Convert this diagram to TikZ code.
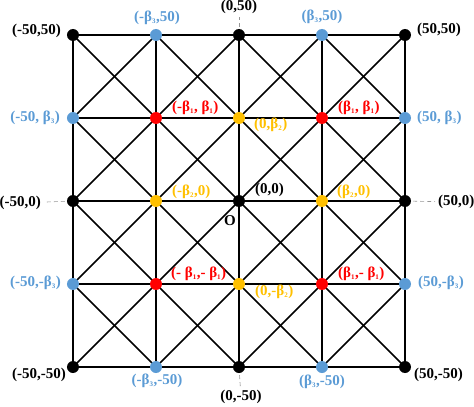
\documentclass[tikz,border=0pt]{standalone}
\usepackage{fontspec}
\setmainfont{Liberation Serif}
\usepackage{tikz}
\usetikzlibrary{positioning, calc}
\definecolor{myblue}{RGB}{91,155,213}
\definecolor{myred}{RGB}{255,0,0}
\definecolor{myamber}{RGB}{255,192,0}
\definecolor{mygray}{RGB}{150,150,150}
\tikzset{
  dot/.style={circle, fill=black, minimum size=12pt, inner sep=0pt},
  bluedot/.style={dot, fill=myblue},
  reddot/.style={dot, fill=myred},
  amberdot/.style={dot, fill=myamber},
  lbl/.style={font=\fontsize{15}{18}\selectfont\bfseries, inner sep=1pt, text=black},
  bluelbl/.style={lbl, text=myblue},
  redlbl/.style={lbl, text=myred},
  amberlbl/.style={lbl, text=myamber},
  gridline/.style={line width=1.7pt, color=black},
  axisdash/.style={dash pattern=on 4pt off 3pt, line width=0.6pt, color=mygray,
    shorten <=2pt, shorten >=2pt}
}
\newcommand{\bsub}[1]{\textsubscript{\fontsize{7}{8}\selectfont #1}}

\begin{document}
\begin{tikzpicture}[x=1pt, y=1pt]
  \useasboundingbox (-239,-206) rectangle (235,201);

  % Grid points
  \foreach \ix in {0,...,4}
    \foreach \iy in {0,...,4}
      \coordinate (c\ix\iy) at ({(\ix-2)*83},{(\iy-2)*83});

  % Draw grid lines
  \foreach \kk in {0,...,4} {
    \draw[gridline] (c\kk0) -- (c\kk4);
    \draw[gridline] (c0\kk) -- (c4\kk);
  }

  % Draw diagonals
  \foreach \kk in {0,...,3} {
    \pgfmathtruncatemacro{\mm}{4-\kk}
    \draw[gridline] (c0\kk) -- (c\mm4);
  }
  \foreach \kk in {1,...,3} {
    \pgfmathtruncatemacro{\mm}{4-\kk}
    \draw[gridline] (c\kk0) -- (c4\mm);
    \draw[gridline] (c\kk4) -- (c4\kk);
  }
  \foreach \kk in {1,...,4}
    \draw[gridline] (c0\kk) -- (c\kk0);

  % Draw points
  \foreach \pp in {00,02,04,20,22,24,40,42,44}
    \node[dot] (g\pp) at (c\pp) {};
  \foreach \pp in {10,30,01,03,41,43,14,34}
    \node[bluedot] (g\pp) at (c\pp) {};
  \foreach \pp in {11,13,31,33}
    \node[reddot] (g\pp) at (c\pp) {};
  \foreach \pp in {21,23,12,32}
    \node[amberdot] (g\pp) at (c\pp) {};

  % Labels
  \node[lbl, anchor=east] (l04) at ([shift={(-11,4)}]g04) {(-50,50)};
  \node[lbl] (l24) at ([shift={(0,28)}]g24) {(0,50)};
  \node[lbl, anchor=west] (l44) at ([shift={(11,5)}]g44) {(50,50)};
  \node[lbl, anchor=east] (l02) at ([shift={(-31,-2)}]g02) {(-50,0)};
  \node[lbl, anchor=west] (l42) at ([shift={(32,-1)}]g42) {(50,0)};
  \node[lbl, anchor=east] (l00) at ([shift={(-6,-8)}]g00) {(-50,-50)};
  \node[lbl] (l20) at ([shift={(2,-30)}]g20) {(0,-50)};
  \node[lbl, anchor=west] (l40) at ([shift={(8,-8)}]g40) {(50,-50)};
  \node[lbl, anchor=west] (l22) at ([shift={(15,11)}]g22) {(0,0)};
  \node[lbl] (lO) at ([shift={(-9,-20)}]g22) {O};

  \node[bluelbl] (l14) at ([shift={(1,17)}]g14) {(-β\bsub{3},50)};
  \node[bluelbl] (l34) at ([shift={(0,18)}]g34) {(β\bsub{3},50)};
  \node[bluelbl, anchor=east] (l03) at ([shift={(-12,0)}]g03) {(-50, β\bsub{3})};
  \node[bluelbl, anchor=west] (l43) at ([shift={(11,0)}]g43) {(50, β\bsub{3})};
  \node[bluelbl, anchor=east] (l01) at ([shift={(-11,1)}]g01) {(-50,-β\bsub{3})};
  \node[bluelbl, anchor=west] (l41) at ([shift={(12,1)}]g41) {(50,-β\bsub{3})};
  \node[bluelbl] (l10) at ([shift={(1,-14)}]g10) {(-β\bsub{3},-50)};
  \node[bluelbl] (l30) at ([shift={(0,-15)}]g30) {(β\bsub{3},-50)};

  \node[redlbl, anchor=west] (l13) at ([shift={(15,10)}]g13) {(-β\bsub{1}, β\bsub{1})};
  \node[redlbl, anchor=west] (l33) at ([shift={(15,10)}]g33) {(β\bsub{1}, β\bsub{1})};
  \node[redlbl, anchor=west] (l11) at ([shift={(14,10)}]g11) {(- β\bsub{1},- β\bsub{1})};
  \node[redlbl, anchor=west] (l31) at ([shift={(15,10)}]g31) {(β\bsub{1},- β\bsub{1})};

  \node[amberlbl, anchor=west] (l23) at ([shift={(14,-7)}]g23) {(0,β\bsub{2})};
  \node[amberlbl, anchor=west] (l12) at ([shift={(15,9)}]g12) {(-β\bsub{2},0)};
  \node[amberlbl, anchor=west] (l32) at ([shift={(14,9)}]g32) {(β\bsub{2},0)};
  \node[amberlbl, anchor=west] (l21) at ([shift={(15,-8)}]g21) {(0,-β\bsub{2})};

  % Dashed axis marks
  \draw[axisdash] (g24) -- (l24);
  \draw[axisdash] (g20) -- (l20);
  \draw[axisdash] (g02) -- (l02);
  \draw[axisdash] (g42) -- (l42);
\end{tikzpicture}
\end{document}
